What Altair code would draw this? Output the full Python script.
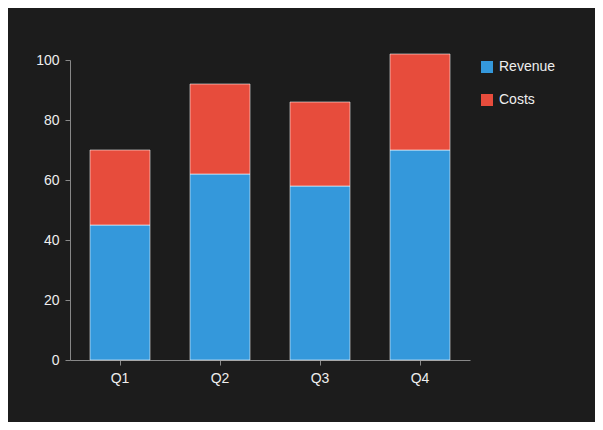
import altair as alt
import pandas as pd

quarters = ["Q1", "Q2", "Q3", "Q4"]
revenue = [45, 62, 58, 70]
costs = [25, 30, 28, 32]
series = ["Revenue", "Costs"]
colors = ["#3498db", "#e74c3c"]

rows = []
for q, r, c in zip(quarters, revenue, costs):
    rows.append({"quarter": q, "series": "Revenue", "value": r, "ord": 0})
    rows.append({"quarter": q, "series": "Costs", "value": c, "ord": 1})
df = pd.DataFrame(rows)

chart = (
    alt.Chart(df)
    .mark_bar(stroke="#ffffff", strokeOpacity=0.55, strokeWidth=1)
    .encode(
        x=alt.X(
            "quarter:N",
            sort=quarters,
            title=None,
            scale=alt.Scale(paddingInner=0.4, paddingOuter=0.2),
            axis=alt.Axis(labelAngle=0, labelPadding=6),
        ),
        y=alt.Y(
            "value:Q",
            stack="zero",
            title=None,
            scale=alt.Scale(domain=[0, 100], nice=False),
            axis=alt.Axis(values=[0, 20, 40, 60, 80, 100], grid=False, labelPadding=6),
        ),
        color=alt.Color(
            "series:N",
            sort=series,
            scale=alt.Scale(domain=series, range=colors),
            legend=alt.Legend(
                title=None,
                orient="none",
                legendX=410,
                legendY=0,
                symbolType="square",
                symbolSize=144,
                symbolStrokeWidth=0,
                labelOffset=5,
                rowPadding=19,
                labelFontSize=14,
                labelColor="#eeeeee",
            ),
        ),
        order=alt.Order("ord:Q"),
    )
    .properties(
        width=400,
        height=300,
        background="#1c1c1c",
        autosize=alt.AutoSizeParams(type="none"),
        padding={"left": 62, "top": 52, "right": 125, "bottom": 62},
    )
    .configure_view(stroke=None)
    .configure_axis(
        domainColor="#888888",
        tickColor="#888888",
        tickSize=5,
        labelColor="#eeeeee",
        labelFontSize=14,
        labelFont="Liberation Sans",
    )
    .configure_legend(labelFont="Liberation Sans")
)

chart.save("out.html", embed_options={"renderer": "svg", "actions": False})
